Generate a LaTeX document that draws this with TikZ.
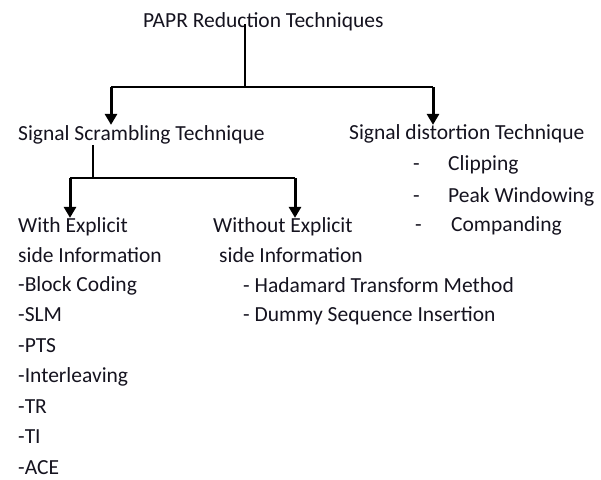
\documentclass[tikz,border=0pt]{standalone}
\usepackage{fontspec}
\setmainfont{Carlito}
\usetikzlibrary{arrows.meta}
\definecolor{ink}{HTML}{15131F}
\begin{document}
\begin{tikzpicture}[x=1pt,y=-1pt,
  lbl/.style={anchor=base west,inner sep=0pt,text=ink,
              font=\fontsize{21.5}{26}\selectfont},
  link/.style={line width=1.6pt},
  down/.style={line width=3pt,-{Triangle[width=12pt,length=11pt]}}]
\useasboundingbox (0,0) rectangle (601,479);

% root
\node[lbl] (root) at (143,27) {PAPR Reduction Techniques};

% first level
\node[lbl] (scr)  at (18,140)  {Signal Scrambling Technique};
\node[lbl] (dist) at (349,139) {Signal distortion Technique};

% distortion methods
\node[lbl] (b1) at (413,170) {-};
\node[lbl] (clip) at (448,170) {Clipping};
\node[lbl] (b2) at (413,202) {-};
\node[lbl] (peak) at (448,202) {Peak Windowing};
\node[lbl] (b3) at (415,231) {-};
\node[lbl] (comp) at (451,231) {Companding};

% scrambling: with explicit side information
\node[lbl] (with)  at (18,232)   {With Explicit};
\node[lbl] (with2) at (18,262)   {side Information};
\node[lbl] (w1)    at (18,291)   {-Block Coding};
\node[lbl] (w2)    at (18,321.5) {-SLM};
\node[lbl] (w3)    at (18,352)   {-PTS};
\node[lbl] (w4)    at (18,382.5) {-Interleaving};
\node[lbl] (w5)    at (18,413)   {-TR};
\node[lbl] (w6)    at (18,443.5) {-TI};
\node[lbl] (w7)    at (18,474)   {-ACE};

% scrambling: without explicit side information
\node[lbl] (wo)  at (213,232) {Without Explicit};
\node[lbl] (wo2) at (219,262) {side Information};
\node[lbl] (o1)  at (243,292) {- Hadamard Transform Method};
\node[lbl] (o2)  at (243,321) {- Dummy Sequence Insertion};

% junction points of the tree
\coordinate (j1) at (245,87);
\coordinate (j1l) at (111,87);
\coordinate (j1r) at (433,87);
\coordinate (j2) at (93,178);
\coordinate (j2l) at (70,178);
\coordinate (j2r) at (295,178);

% root -> first level
\draw[link] ([yshift=6.5pt]root.south -| j1) -- (j1);
\draw[link] (j1l) -- (j1r);
\draw[down] (j1l) -- (j1l |- scr.north);
\draw[down] (j1r) -- ([yshift=-1pt]j1r |- dist.north);

% scrambling -> sub-branches
\draw[link] ([yshift=-1pt]scr.south -| j2) -- (j2);
\draw[link] (j2l) -- (j2r);
\draw[down] (j2l) -- ([yshift=-1pt]j2l |- with.north);
\draw[down] (j2r) -- ([yshift=-1pt]j2r |- wo.north);
\end{tikzpicture}
\end{document}
